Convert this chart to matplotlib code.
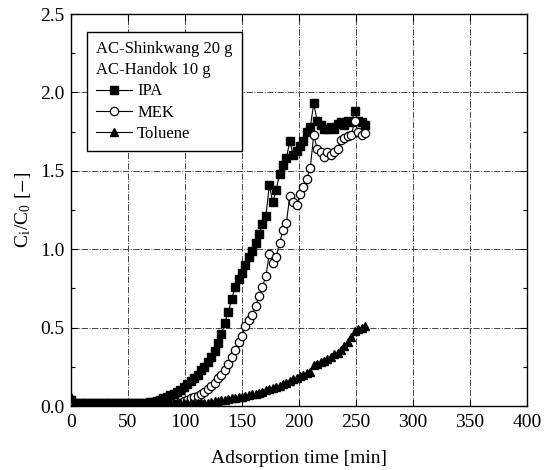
import matplotlib
matplotlib.use("Agg")
import matplotlib.pyplot as plt
from matplotlib.ticker import MultipleLocator, FormatStrFormatter

plt.rcParams['font.family'] = ['Liberation Serif', 'DejaVu Serif']
plt.rcParams['mathtext.fontset'] = 'stix'

# ---- data ----
time_min = [0, 3, 6, 9, 12, 15, 18, 21, 24, 27, 30, 33, 36, 39, 42, 45, 48, 51, 54, 57,
            60, 63, 66, 69, 72, 75, 78, 81, 84, 87, 90, 93, 96, 99, 102, 105, 108, 111, 114, 117,
            120, 123, 126, 129, 132, 135, 138, 141, 144, 147, 150, 153, 156, 159, 162, 165, 168, 171, 174, 177,
            180, 183, 186, 189, 192, 195, 198, 201, 204, 207, 210, 213, 216, 219, 222, 225, 228, 231, 234, 237,
            240, 243, 246, 249, 252, 255, 258]

ipa = [0.04, 0.02, 0.02, 0.02, 0.02, 0.02, 0.02, 0.02, 0.02, 0.02, 0.02, 0.02, 0.02, 0.02, 0.02, 0.02, 0.02, 0.02, 0.02, 0.02,
       0.02, 0.02, 0.02, 0.025, 0.025, 0.03, 0.04, 0.05, 0.06, 0.07, 0.08, 0.09, 0.105, 0.12, 0.14, 0.16, 0.18, 0.20, 0.23, 0.25,
       0.28, 0.31, 0.35, 0.40, 0.46, 0.53, 0.60, 0.68, 0.76, 0.81, 0.85, 0.90, 0.95, 0.99, 1.04, 1.10, 1.16, 1.21, 1.41, 1.30,
       1.38, 1.48, 1.54, 1.58, 1.69, 1.60, 1.63, 1.66, 1.69, 1.75, 1.78, 1.93, 1.82, 1.79, 1.77, 1.77, 1.78, 1.77, 1.80, 1.81,
       1.79, 1.82, 1.81, 1.88, 1.82, 1.81, 1.79]

mek = [0.04, 0.01, 0.01, 0.01, 0.01, 0.01, 0.01, 0.01, 0.01, 0.01, 0.01, 0.01, 0.01, 0.01, 0.01, 0.01, 0.01, 0.01, 0.01, 0.01,
       0.01, 0.01, 0.01, 0.01, 0.01, 0.01, 0.01, 0.01, 0.01, 0.01, 0.015, 0.015, 0.02, 0.03, 0.04, 0.05, 0.06, 0.065, 0.075, 0.09,
       0.11, 0.13, 0.15, 0.18, 0.20, 0.23, 0.27, 0.31, 0.36, 0.41, 0.45, 0.51, 0.55, 0.58, 0.64, 0.70, 0.76, 0.83, 0.97, 0.91,
       0.95, 1.04, 1.12, 1.17, 1.34, 1.30, 1.28, 1.35, 1.40, 1.45, 1.52, 1.73, 1.64, 1.62, 1.59, 1.62, 1.60, 1.62, 1.64, 1.70,
       1.71, 1.72, 1.73, 1.82, 1.75, 1.73, 1.74]

toluene = [0.06, 0.02, 0.02, 0.02, 0.02, 0.02, 0.02, 0.02, 0.02, 0.02, 0.02, 0.02, 0.02, 0.02, 0.02, 0.02, 0.02, 0.02, 0.02, 0.02,
           0.02, 0.02, 0.02, 0.02, 0.02, 0.02, 0.02, 0.02, 0.02, 0.02, 0.02, 0.02, 0.02, 0.02, 0.02, 0.02, 0.02, 0.02, 0.02, 0.02,
           0.02, 0.025, 0.03, 0.033, 0.036, 0.04, 0.045, 0.05, 0.053, 0.057, 0.06, 0.065, 0.07, 0.075, 0.08, 0.085, 0.09, 0.10, 0.11, 0.115,
           0.12, 0.13, 0.14, 0.15, 0.16, 0.17, 0.18, 0.19, 0.20, 0.21, 0.22, 0.26, 0.27, 0.28, 0.29, 0.30, 0.31, 0.33, 0.34, 0.36,
           0.38, 0.41, 0.44, 0.48, 0.49, 0.50, 0.51]

series_labels = ["IPA", "MEK", "Toluene"]
legend_title = "AC-Shinkwang 20 g\nAC-Handok 10 g"
x_label = "Adsorption time [min]"
y_label = r"C$_\mathregular{i}$/C$_\mathregular{0}$ [$-$]"

# ---- figure ----
fig = plt.figure(figsize=(5.51, 4.70), dpi=100)
ax = fig.add_axes([0.129, 0.136, 0.827, 0.834])

ax.plot(time_min, ipa, color='black', lw=0.8, marker='s', ms=5.5,
        mfc='black', mec='black', label=series_labels[0], zorder=3)
ax.plot(time_min, mek, color='black', lw=0.8, marker='o', ms=6,
        mfc='white', mec='black', mew=0.9, label=series_labels[1], zorder=4)
ax.plot(time_min, toluene, color='black', lw=0.8, marker='^', ms=6,
        mfc='black', mec='black', label=series_labels[2], zorder=5)

ax.set_xlim(0, 400)
ax.set_ylim(0, 2.5)
ax.xaxis.set_major_locator(MultipleLocator(50))
ax.yaxis.set_major_locator(MultipleLocator(0.5))
ax.yaxis.set_minor_locator(MultipleLocator(0.25))
ax.yaxis.set_major_formatter(FormatStrFormatter('%.1f'))
ax.tick_params(which='both', direction='in', top=True, right=True,
               labelsize=14, width=0.8, colors='black')
ax.tick_params(which='major', length=5)
ax.tick_params(which='minor', length=3)
ax.tick_params(axis='x', pad=5.5)
ax.tick_params(axis='y', pad=5)
for sp in ax.spines.values():
    sp.set_linewidth(1.0)
    sp.set_color('black')

ax.grid(True, which='major', linestyle='-.', color='#444444', lw=0.7)

ax.set_xlabel(x_label, fontsize=14, labelpad=14)
ax.set_ylabel(y_label, fontsize=14, labelpad=5)

leg = ax.legend(title=legend_title, loc='upper left', bbox_to_anchor=(0.035, 0.954),
                borderaxespad=0, fancybox=False, framealpha=1, edgecolor='black',
                fontsize=12, title_fontsize=12, handlelength=2.15, handletextpad=0.3,
                labelspacing=0.32, borderpad=0.55, alignment='left')
leg.get_frame().set_linewidth(1.0)
leg.get_title().set_linespacing(1.4)

fig.savefig("out.png", dpi=100)
